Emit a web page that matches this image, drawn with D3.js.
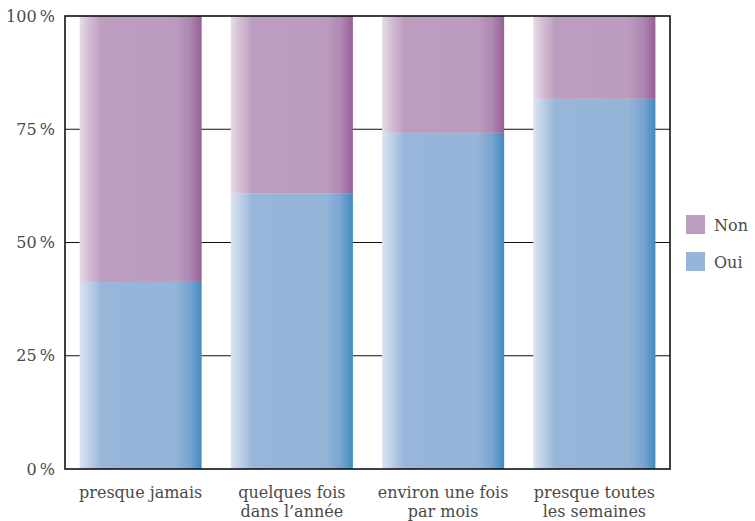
<!DOCTYPE html>
<html>
<head>
<meta charset="utf-8">
<script src="https://cdn.jsdelivr.net/npm/d3@7"></script>
<style>
  html, body { margin: 0; padding: 0; background: #fff; }
  svg text { font-family: "DejaVu Serif", "Liberation Serif", serif; fill: #4a4a4a; }
</style>
</head>
<body>
<svg id="chart" width="755" height="521"></svg>
<script>
// Share answering "Oui" / "Non" per frequency group (percent)
const categories = [
  ["presque jamais"],
  ["quelques fois", "dans l’année"],
  ["environ une fois", "par mois"],
  ["presque toutes", "les semaines"]
];
const oui = [41.5, 60.9, 74.2, 81.7];
const non = oui.map(v => 100 - v);
const seriesNames = ["Non", "Oui"];
const yTicks = [0, 25, 50, 75, 100];

const svg = d3.select("#chart");
const margin = { left: 65, right: 85, top: 16, bottom: 52 };
const W = 755, H = 521;

const x = d3.scaleBand()
  .domain(d3.range(categories.length))
  .range([margin.left, W - margin.right])
  .paddingInner(0.193)
  .paddingOuter(0.0965);

const y = d3.scaleLinear()
  .domain([0, 100])
  .range([H - margin.bottom, margin.top]);

// Horizontal shading on the bars
const defs = svg.append("defs");
function grad(id, stops) {
  const g = defs.append("linearGradient").attr("id", id)
    .attr("x1", "0").attr("x2", "1").attr("y1", "0").attr("y2", "0");
  stops.forEach(([o, c]) => g.append("stop").attr("offset", o).attr("stop-color", c));
}
grad("gOui", [[0, "#dbe4f2"], [0.06, "#c5d5ea"], [0.18, "#97b6d9"], [0.78, "#94b4d8"], [0.9, "#78a5d0"], [1, "#418cc2"]]);
grad("gNon", [[0, "#e8dbe8"], [0.06, "#d8c3d8"], [0.18, "#bc9dbf"], [0.78, "#bb9cbe"], [0.9, "#ae88b3"], [1, "#985f97"]]);

// Grid lines
svg.append("g").selectAll("line")
  .data(yTicks.filter(t => t > 0 && t < 100))
  .join("line")
  .attr("x1", margin.left).attr("x2", W - margin.right)
  .attr("y1", d => y(d)).attr("y2", d => y(d))
  .attr("stroke", "#111").attr("stroke-width", 1.2);

// Stacked bars
const data = categories.map((c, i) => ({ i, oui: oui[i], non: non[i] }));
const stack = d3.stack().keys(["oui", "non"])(data);
const fills = { oui: "url(#gOui)", non: "url(#gNon)" };
svg.append("g").selectAll("g")
  .data(stack)
  .join("g")
  .attr("fill", d => fills[d.key])
  .selectAll("rect")
  .data(d => d)
  .join("rect")
  .attr("x", d => x(d.data.i))
  .attr("width", x.bandwidth())
  .attr("y", d => y(d[1]))
  .attr("height", d => y(d[0]) - y(d[1]));

// Frame around plot area
svg.append("rect")
  .attr("x", margin.left).attr("y", margin.top)
  .attr("width", W - margin.left - margin.right)
  .attr("height", H - margin.top - margin.bottom)
  .attr("fill", "none").attr("stroke", "#111").attr("stroke-width", 1.6);

// Y tick labels
svg.append("g").selectAll("text")
  .data(yTicks)
  .join("text")
  .attr("x", margin.left - 10)
  .attr("y", d => y(d))
  .attr("dy", "0.35em")
  .attr("text-anchor", "end")
  .attr("font-size", 16)
  .text(d => d + "\u202f%");

// Category labels
const xl = svg.append("g").selectAll("text")
  .data(categories)
  .join("text")
  .attr("text-anchor", "middle")
  .attr("font-size", 16)
  .attr("x", (d, i) => x(i) + x.bandwidth() / 2)
  .attr("y", H - margin.bottom + 29);
xl.selectAll("tspan")
  .data(d => d)
  .join("tspan")
  .attr("x", function () { return d3.select(this.parentNode).attr("x"); })
  .attr("dy", (d, j) => j === 0 ? 0 : 19)
  .text(d => d);

// Legend
const legend = svg.append("g").attr("transform", `translate(${W - margin.right + 16}, 215)`);
const legendFill = { Non: "#bc9dbf", Oui: "#95b5d9" };
seriesNames.forEach((name, k) => {
  const g = legend.append("g").attr("transform", `translate(0, ${k * 37})`);
  g.append("rect").attr("width", 19).attr("height", 19).attr("fill", legendFill[name]);
  g.append("text").attr("x", 28).attr("y", 10).attr("dy", "0.35em")
    .attr("font-size", 16).text(name);
});
</script>
</body>
</html>
